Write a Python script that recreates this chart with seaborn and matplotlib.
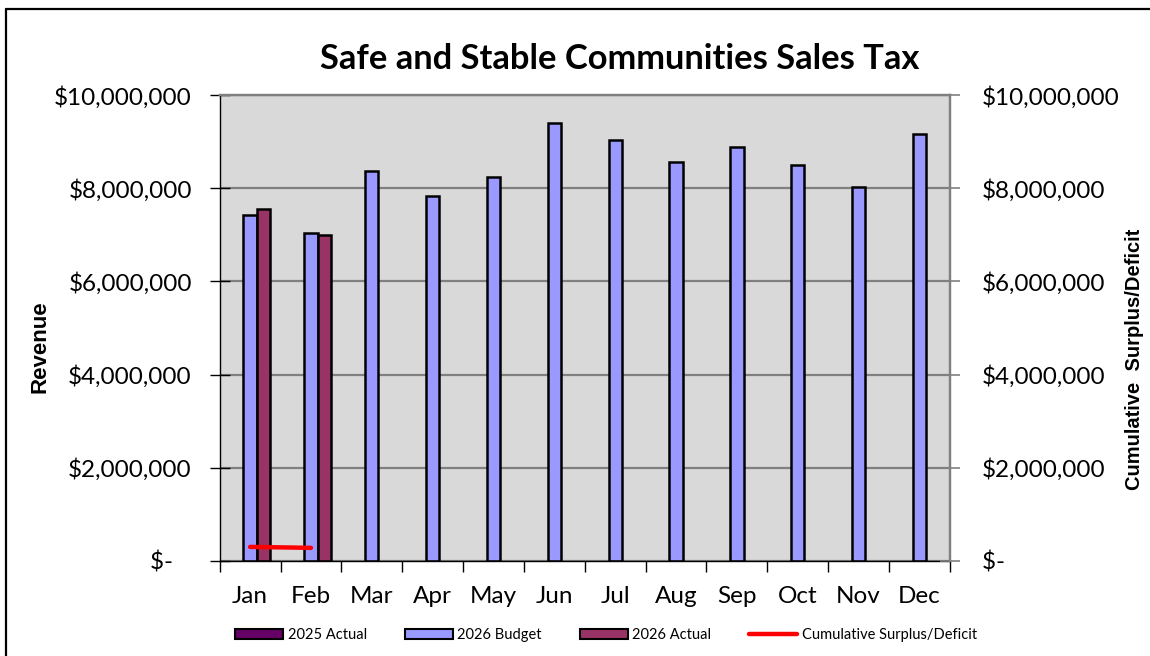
import numpy as np
import pandas as pd
import matplotlib
matplotlib.use("Agg")
import matplotlib.pyplot as plt
import seaborn as sns
from matplotlib.ticker import FuncFormatter, FixedLocator
from matplotlib.patches import Patch
from matplotlib.lines import Line2D

months = ["Jan", "Feb", "Mar", "Apr", "May", "Jun",
          "Jul", "Aug", "Sep", "Oct", "Nov", "Dec"]
budget_2026 = [7430000, 7050000, 8380000, 7830000, 8240000, 9400000,
               9040000, 8560000, 8880000, 8490000, 8020000, 9160000]
actual_2026 = [7550000, 7000000]
actual_2025 = []
cum_surplus = [300000, 280000]

series_names = ["2025 Actual", "2026 Budget", "2026 Actual"]
colors = {"2025 Actual": "#660066", "2026 Budget": "#9999FF", "2026 Actual": "#993366"}

rows = []
for m, v in zip(months, actual_2025):
    rows.append((m, "2025 Actual", v))
for m, v in zip(months, budget_2026):
    rows.append((m, "2026 Budget", v))
for m, v in zip(months, actual_2026):
    rows.append((m, "2026 Actual", v))
df = pd.DataFrame(rows, columns=["month", "series", "value"])

sns.set_theme(style="white")
plt.rcParams["font.family"] = ["Lato", "DejaVu Sans"]
plt.rcParams["text.color"] = "black"
plt.rcParams["xtick.labelcolor"] = "black"
plt.rcParams["ytick.labelcolor"] = "black"
plt.rcParams["axes.labelcolor"] = "black"

fig = plt.figure(figsize=(11.5, 6.56), dpi=100)
ax = fig.add_axes([0.191, 0.145, 0.635, 0.710])
ax.set_facecolor("#D9D9D9")

sns.barplot(data=df, x="month", y="value", hue="series", order=months,
            hue_order=series_names, palette=colors, width=0.66,
            edgecolor="black", linewidth=1.8, saturation=1, legend=False, ax=ax)

ax.set_ylim(0, 10000000)
ax.set_xlim(-0.5, 11.5)
ax.yaxis.set_major_locator(FixedLocator(np.arange(0, 10000001, 2000000)))
money = FuncFormatter(lambda v, p: "$-   " if v == 0 else f"${v:,.0f}")
ax.yaxis.set_major_formatter(money)
ax.grid(axis="y", color="#808080", linewidth=1.6)
ax.set_axisbelow(True)

ax.set_xlabel("")
ax.set_ylabel("Revenue", fontsize=16, fontweight="bold",
              family=["Liberation Sans", "DejaVu Sans"])
ax.yaxis.set_label_coords(-0.231, 0.459)
ax.tick_params(axis="y", direction="inout", length=14, width=1, color="black",
               labelsize=17.5, pad=13, left=True)
ax.tick_params(axis="x", length=0, labelsize=17.5, pad=18)
ax.set_xticks(np.arange(-0.5, 12, 1), minor=True)
ax.tick_params(axis="x", which="minor", direction="out", length=8, width=1,
               color="black", bottom=True)

for s in ["left", "bottom"]:
    ax.spines[s].set_color("black")
    ax.spines[s].set_linewidth(1)
for s in ["top", "right"]:
    ax.spines[s].set_color("#808080")
    ax.spines[s].set_linewidth(1.6)

ax2 = ax.twinx()
ax2.set_ylim(0, 10000000)
ax2.yaxis.set_major_locator(FixedLocator(np.arange(0, 10000001, 2000000)))
ax2.yaxis.set_major_formatter(money)
sns.lineplot(x=np.arange(len(cum_surplus)), y=cum_surplus, color="red",
             linewidth=3.2, ax=ax2)
ax2.tick_params(axis="y", direction="inout", length=14, width=1.2, color="#808080",
                labelsize=17.5, pad=16, right=True)
for s in ["left", "bottom"]:
    ax2.spines[s].set_visible(False)
for s in ["top", "right"]:
    ax2.spines[s].set_color("#808080")
    ax2.spines[s].set_linewidth(1.6)
ax2.set_ylabel("Cumulative  Surplus/Deficit", rotation=90, fontsize=14.5,
               fontweight="bold", family=["Liberation Sans", "DejaVu Sans"])
ax2.yaxis.set_label_coords(1.2397, 0.433)

fig.suptitle("Safe and Stable Communities Sales Tax", x=0.539, y=0.935,
             fontsize=24.8, fontweight="bold", color="black")

handles = [Patch(facecolor=colors[n], edgecolor="black", linewidth=1.5, label=n)
           for n in series_names]
handles.append(Line2D([0], [0], color="red", linewidth=3.2,
                      label="Cumulative Surplus/Deficit"))
fig.legend(handles=handles, loc="center", bbox_to_anchor=(0.527, 0.032), ncol=4,
           frameon=False, fontsize=10.5, handlelength=3.3, handleheight=0.75,
           columnspacing=2.6, handletextpad=0.3)

fig.add_artist(Line2D([6 / 1150, 1], [1 - 8.5 / 656, 1 - 8.5 / 656],
                      color="black", linewidth=1.6, transform=fig.transFigure))
fig.add_artist(Line2D([6 / 1150, 6 / 1150], [0, 1 - 8.5 / 656],
                      color="black", linewidth=1.6, transform=fig.transFigure))

fig.savefig("out.png", dpi=100, facecolor="white")
